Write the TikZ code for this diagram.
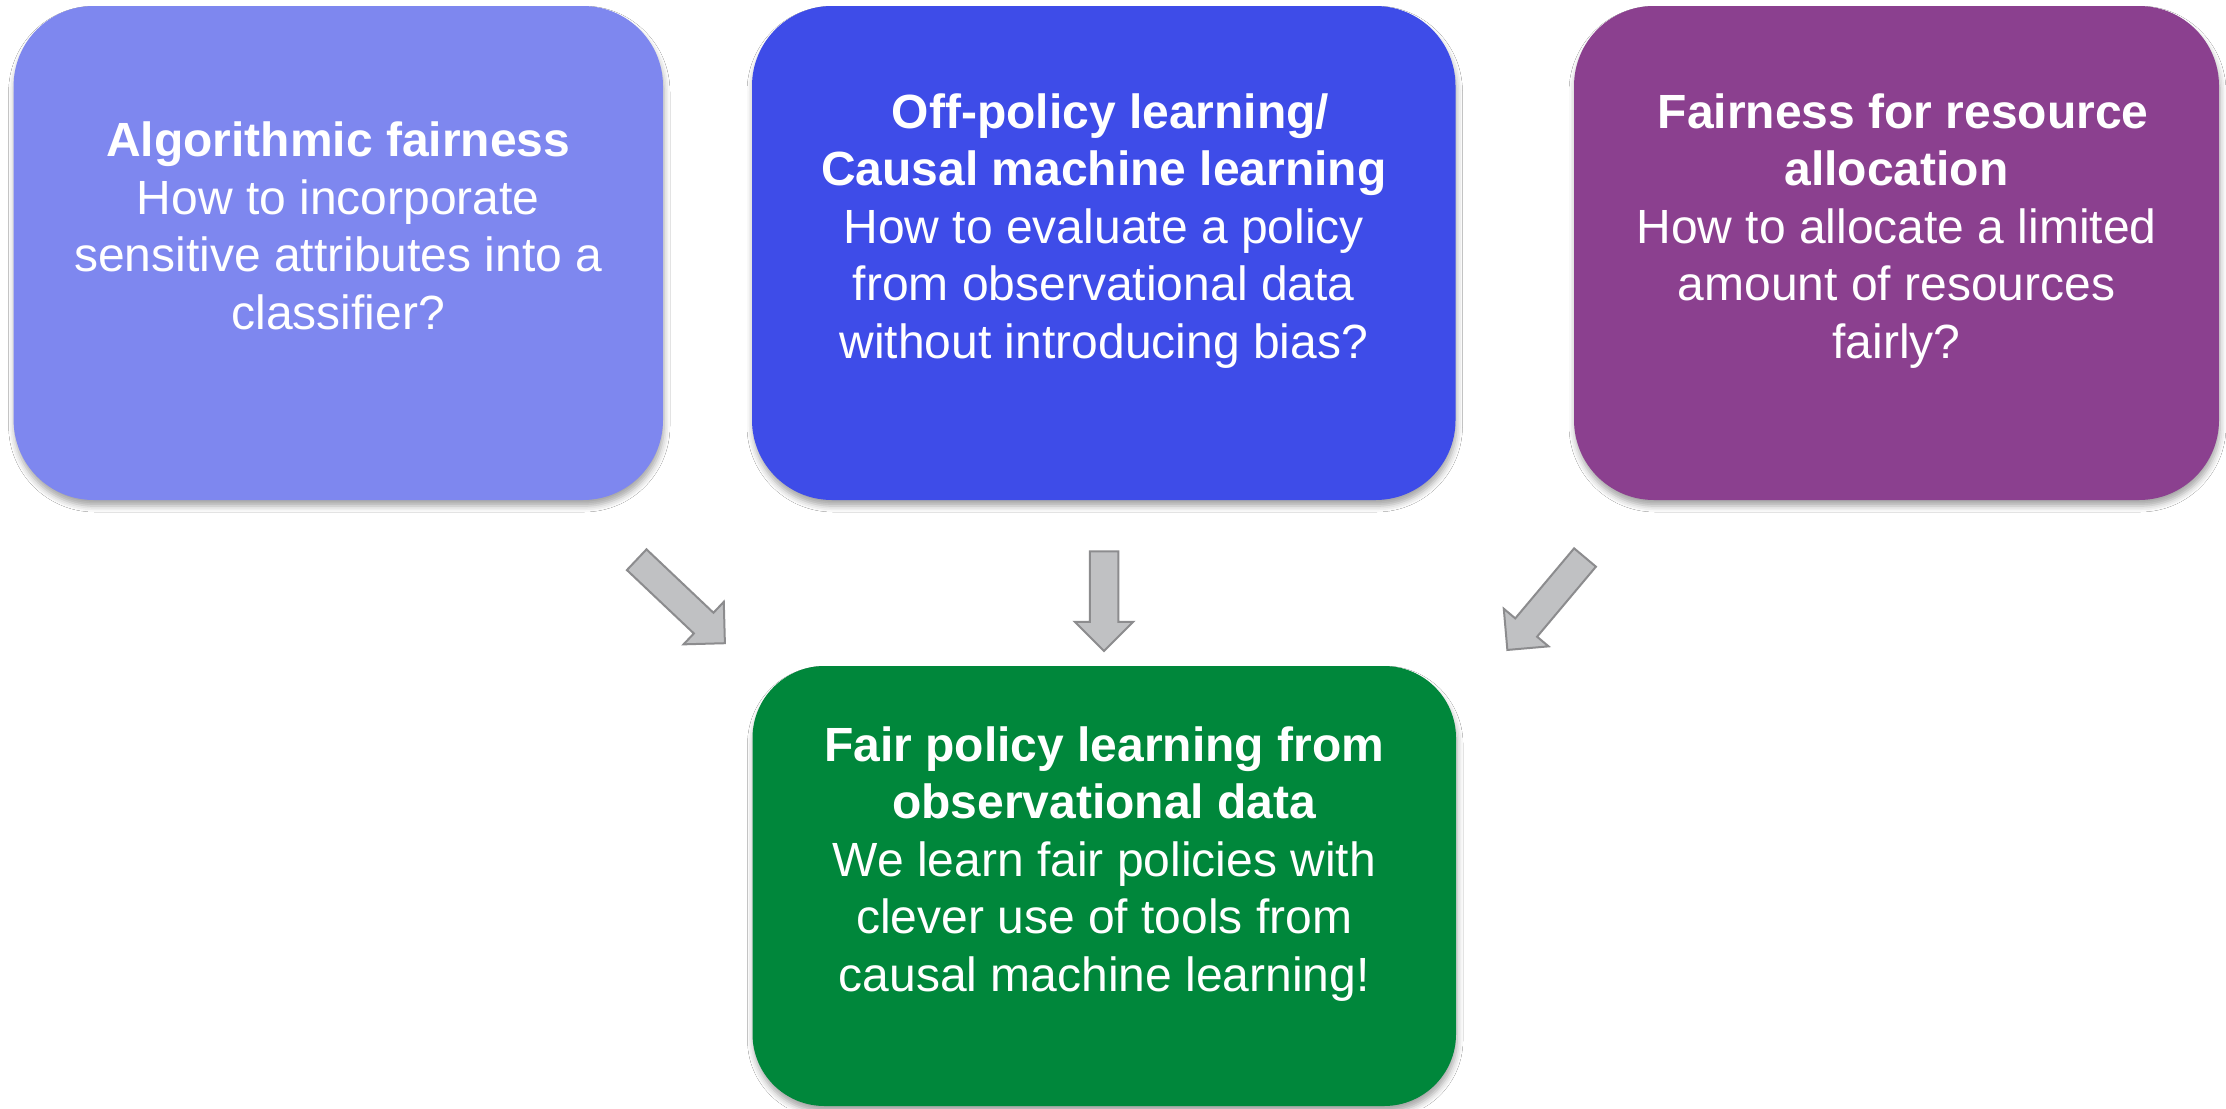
\documentclass[tikz,border=0pt]{standalone}
\usepackage{fontspec}
\setmainfont{Liberation Sans}
\usetikzlibrary{shadows.blur}

\definecolor{algfill}{HTML}{7E87EF}
\definecolor{opfill}{HTML}{3E4CE8}
\definecolor{resfill}{HTML}{8B408F}
\definecolor{fairfill}{HTML}{00873B}
\definecolor{arrowfill}{HTML}{C0C1C3}
\definecolor{arrowline}{HTML}{8C8C8E}

% fixed height above the first baseline and depth below the last one
\newcommand{\firststrut}{\rule{0pt}{20pt}}
\newcommand{\laststrut}{\rule[-30pt]{0pt}{30pt}}
\newcommand{\lead}{\hspace*{6.67pt}}

\tikzset{
  card/.style={rounded corners=40pt, inner sep=0pt, align=center, text=white,
    font=\fontsize{24pt}{28.75pt}\selectfont,
    minimum height=247pt,
    blur shadow={shadow xshift=0.5pt, shadow yshift=-3pt,
                 shadow blur radius=3pt, shadow opacity=35}},
  blockarrow/.style={fill=arrowfill, draw=arrowline, line width=1pt, line join=miter},
}

% thick block arrow from one named coordinate to another
\newcommand{\blockarrow}[2]{%
  \pgfpointdiff{\pgfpointanchor{#1}{center}}{\pgfpointanchor{#2}{center}}%
  \pgfgetlastxy{\arrdx}{\arrdy}%
  \pgfmathsetmacro{\arrlen}{veclen(\arrdx,\arrdy)}%
  \pgfmathsetmacro{\arrang}{atan2(\arrdy,\arrdx)}%
  \begin{scope}[shift={(#1)}, rotate=\arrang, x=1pt, y=1pt]
    \draw[blockarrow] (0,-7.125) -- (\arrlen-14.625,-7.125)
      -- (\arrlen-14.625,-14.625) -- (\arrlen,0) -- (\arrlen-14.625,14.625)
      -- (\arrlen-14.625,7.125) -- (0,7.125) -- cycle;
  \end{scope}}

\begin{document}
\begin{tikzpicture}[x=0.5pt, y=-0.5pt]
  \fill[white] (0,0) rectangle (2226,1108);
  \useasboundingbox (0,0) rectangle (2226,1108);

  \node[card, fill=algfill, minimum width=324.7pt] (alg) at (338.3,253)
    {\firststrut\textbf{Algorithmic fairness}\\
     How to incorporate\\
     sensitive attributes into a\\
     classifier?\laststrut};

  \node[card, fill=opfill, minimum width=351.75pt] (offpol) at (1103.75,253)
    {\firststrut\lead\textbf{Off-policy learning/}\\
     \textbf{Causal machine learning}\\
     How to evaluate a policy\\
     from observational data\\
     without introducing bias?\laststrut};

  \node[card, fill=resfill, minimum width=322.5pt] (resalloc) at (1896.5,253)
    {\firststrut\lead\textbf{Fairness for resource}\\
     \textbf{allocation}\\
     How to allocate a limited\\
     amount of resources\\
     fairly?\laststrut};

  \node[card, fill=fairfill, minimum width=351.75pt, minimum height=220pt,
        rounded corners=36pt] (fairpol) at (1104.25,886)
    {\firststrut\textbf{Fair policy learning from}\\
     \textbf{observational data}\\
     We learn fair policies with\\
     clever use of tools from\\
     causal machine learning!\laststrut};

  % arrow ends
  \coordinate (algtail) at (636.7,559.7);
  \coordinate (algtip)  at (725,643.3);
  \coordinate (offtail) at (1104,551.3);
  \coordinate (offtip)  at (1104,651);
  \coordinate (restail) at (1585,557.5);
  \coordinate (restip)  at (1507.3,650);

  \blockarrow{algtail}{algtip}
  \blockarrow{offtail}{offtip}
  \blockarrow{restail}{restip}
\end{tikzpicture}
\end{document}
